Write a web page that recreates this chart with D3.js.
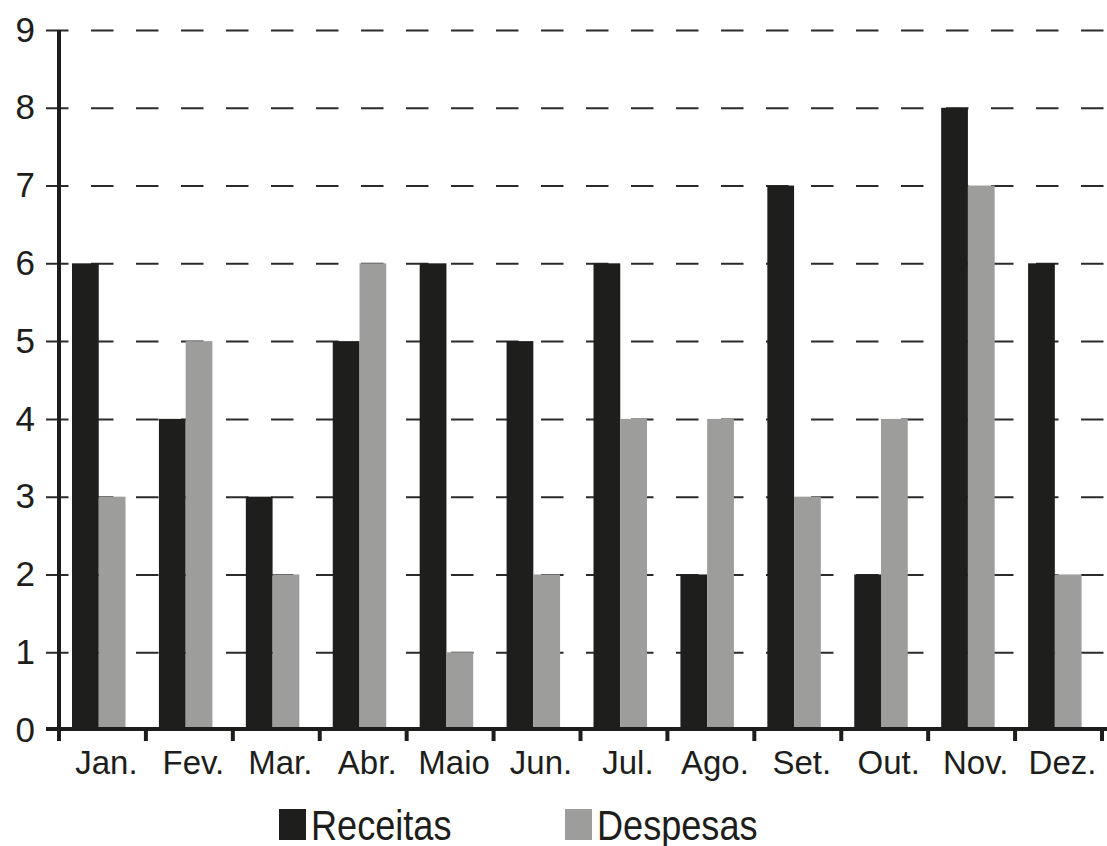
<!DOCTYPE html>
<html>
<head>
<meta charset="utf-8">
<script src="https://cdn.jsdelivr.net/npm/d3@7/dist/d3.min.js"></script>
<style>
  body { margin: 0; background: #fff; }
  svg text { font-family: "Liberation Sans", Arial, sans-serif; fill: #1d1d1b; }
</style>
</head>
<body>
<div id="chart"></div>
<script>
// chart data
var months = ["Jan.", "Fev.", "Mar.", "Abr.", "Maio", "Jun.", "Jul.", "Ago.", "Set.", "Out.", "Nov.", "Dez."];
var receitas = [6, 4, 3, 5, 6, 5, 6, 2, 7, 2, 8, 6];
var despesas = [3, 5, 2, 6, 1, 2, 4, 4, 3, 4, 7, 2];
var seriesNames = ["Receitas", "Despesas"];
var seriesColors = ["#1e1e1c", "#9d9d9c"];
var yTicks = [0, 1, 2, 3, 4, 5, 6, 7, 8, 9];

var width = 1107, height = 846;
var INK = "#1d1d1b";

var svg = d3.select("#chart").append("svg")
	.attr("width", width)
	.attr("height", height);

svg.append("rect").attr("width", width).attr("height", height).attr("fill", "#fff");

var x = d3.scaleBand().domain(months).range([59, 1102]);
var x1 = d3.scaleBand().domain(seriesNames).range([13, 66.5]);
var y = d3.scaleLinear().domain([0, 9]).range([730, 30]);

// dashed gridlines + y labels
var yAxis = svg.append("g")
	.attr("transform", "translate(46,0)")
	.call(d3.axisLeft(y).tickValues(yTicks).tickFormat(d3.format("d"))
		.tickSize(-(1104 - 46)).tickPadding(11));
yAxis.select(".domain").remove();
yAxis.selectAll(".tick line")
	.attr("stroke", "#2b2b2b")
	.attr("stroke-width", 2)
	.attr("stroke-dasharray", "22.5,22.5")
	.attr("opacity", d => d === 0 ? 0 : 1);
yAxis.selectAll(".tick text")
	.attr("font-size", 35)
	.attr("fill", INK);

// bars
var rows = months.map((m, i) => ({ month: m, values: [receitas[i], despesas[i]] }));
var groups = svg.append("g").selectAll("g")
	.data(rows)
	.join("g")
	.attr("transform", d => "translate(" + x(d.month) + ",0)");

groups.selectAll("rect")
	.data(d => d.values.map((v, k) => ({ key: seriesNames[k], value: v, color: seriesColors[k] })))
	.join("rect")
	.attr("x", d => x1(d.key))
	.attr("width", x1.bandwidth())
	.attr("y", d => y(d.value))
	.attr("height", d => y(0) - y(d.value))
	.attr("fill", d => d.color);

// x axis line
svg.append("line")
	.attr("x1", 46).attr("x2", 1107)
	.attr("y1", y(0) - 1).attr("y2", y(0) - 1)
	.attr("stroke", INK).attr("stroke-width", 4);

// y axis line
svg.append("line")
	.attr("x1", 59).attr("x2", 59)
	.attr("y1", y(9)).attr("y2", y(0) + 11)
	.attr("stroke", INK).attr("stroke-width", 4);

// x ticks at band edges
var edges = months.map(m => x(m)).concat([x.range()[1]]);
svg.append("g").selectAll("line")
	.data(edges)
	.join("line")
	.attr("x1", d => d).attr("x2", d => d)
	.attr("y1", y(0)).attr("y2", y(0) + 11)
	.attr("stroke", INK).attr("stroke-width", 4);

// x labels
svg.append("g").selectAll("text")
	.data(months)
	.join("text")
	.attr("x", d => x(d) + x.bandwidth() / 2 + 4)
	.attr("y", 774)
	.attr("text-anchor", "middle")
	.attr("font-size", 33)
	.text(d => d);

// legend
var legendX = [279, 565];
var legend = svg.append("g").selectAll("g")
	.data(seriesNames)
	.join("g")
	.attr("transform", (d, i) => "translate(" + legendX[i] + ",809)");
legend.append("rect")
	.attr("width", 27).attr("height", 31)
	.attr("fill", (d, i) => seriesColors[i]);
legend.append("text")
	.attr("transform", "translate(32,31) scale(0.86,1)")
	.attr("font-size", 42)
	.text(d => d);
</script>
</body>
</html>
